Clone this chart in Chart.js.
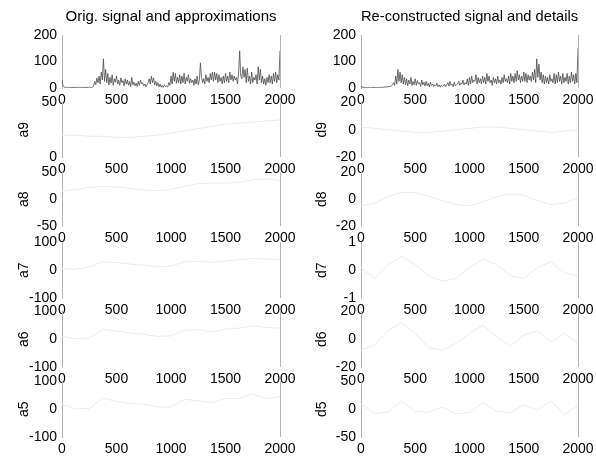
<!DOCTYPE html>
<html><head><meta charset="utf-8">
<script src="https://cdn.jsdelivr.net/npm/chart.js@4"></script>
<style>
html,body{margin:0;padding:0;background:#fff}
body{width:596px;height:464px;position:relative;overflow:hidden}
canvas{position:absolute}
</style>
</head><body>
<script>
// ---- data ----
const SIGNAL_STEP = 10;   // samples between read-off values of the signals
const COARSE_STEP = 125;  // samples between read-off values of the (faint) approximations/details
const xTickValues = [0, 500, 1000, 1500, 2000];

const originalSignal = [
  30, 8, 4, 2, 3, 2, 1, 2, 3, 2,
  2, 3, 2, 1, 2, 3, 2, 2, 1, 2,
  3, 2, 1, 2, 2, 4, 2, 1, 3, 8,
  25, 12, 38, 20, 45, 15, 60, 30, 110, 25,
  70, 20, 55, 12, 40, 18, 50, 10, 35, 22,
  45, 15, 30, 10, 38, 20, 28, 8, 35, 15,
  30, 10, 25, 5, 40, 12, 22, 8, 18, 6,
  25, 10, 30, 15, 20, 8, 15, 5, 12, 20,
  35, 15, 45, 20, 38, 12, 25, 8, 20, 5,
  15, 3, 10, 2, 12, 5, 8, 4, 20, 10,
  45, 15, 60, 25, 55, 18, 40, 20, 50, 15,
  45, 20, 55, 15, 40, 25, 50, 18, 35, 20,
  30, 10, 35, 15, 45, 12, 28, 95, 40, 20,
  35, 15, 50, 25, 40, 20, 55, 30, 60, 25,
  60, 30, 55, 20, 50, 25, 40, 15, 45, 20,
  55, 25, 45, 20, 60, 30, 50, 25, 45, 30,
  40, 15, 55, 140, 45, 35, 80, 40, 70, 20,
  75, 25, 45, 15, 60, 20, 40, 30, 50, 15,
  80, 30, 70, 20, 45, 15, 35, 10, 40, 20,
  50, 20, 45, 15, 55, 25, 60, 20, 50, 30,
  140
];

const reconstructedSignal = [
  5, 4, 3, 2, 2, 1, 1, 2, 1, 1,
  1, 1, 2, 1, 1, 2, 1, 2, 2, 3,
  2, 3, 4, 3, 5, 4, 6, 5, 8, 12,
  20, 10, 45, 15, 70, 25, 60, 20, 50, 15,
  40, 12, 35, 8, 30, 15, 40, 10, 25, 12,
  35, 10, 28, 15, 20, 6, 30, 12, 22, 8,
  25, 8, 18, 4, 22, 10, 15, 5, 12, 8,
  18, 5, 12, 3, 10, 6, 8, 15, 5, 12,
  20, 8, 25, 10, 15, 5, 22, 8, 12, 15,
  25, 10, 18, 15, 30, 12, 20, 15, 35, 10,
  40, 15, 45, 20, 30, 25, 50, 15, 40, 20,
  35, 15, 45, 20, 40, 15, 55, 25, 45, 20,
  30, 10, 40, 20, 35, 15, 45, 20, 30, 15,
  40, 20, 50, 25, 35, 20, 45, 15, 55, 25,
  45, 20, 55, 25, 65, 30, 50, 20, 45, 25,
  60, 25, 55, 20, 50, 30, 45, 25, 60, 30,
  70, 20, 110, 40, 90, 30, 60, 20, 50, 15,
  45, 20, 40, 15, 50, 25, 35, 20, 55, 15,
  50, 20, 60, 25, 45, 15, 55, 20, 40, 25,
  55, 15, 45, 20, 60, 25, 50, 15, 55, 20,
  150
];

const a9 = [20, 20, 19, 19, 18, 18, 19, 20, 22, 24, 26, 28, 30, 31, 32, 33, 34];
const a8 = [15, 18, 22, 24, 23, 20, 17, 16, 18, 24, 29, 30, 30, 32, 36, 38, 35];
const a7 = [5, 3, 12, 30, 28, 22, 18, 12, 15, 30, 32, 28, 33, 38, 42, 40, 38];
const a6 = [10, 2, 4, 35, 30, 22, 18, 10, 12, 32, 34, 26, 36, 40, 48, 42, 40];
const a5 = [18, 1, 3, 40, 28, 20, 18, 8, 8, 36, 30, 24, 38, 38, 55, 38, 45];
const d9 = [2, 1, 0, -1, -2, -2, -1, 0, 1, 2, 2, 1, 0, -1, -2, -1, 0];
const d8 = [-5, -3, 2, 5, 5, 2, -1, -4, -5, -2, 2, 4, 3, -1, -4, -3, 1];
const d7 = [0.1, -0.3, 0.2, 0.5, 0.2, -0.2, -0.4, -0.3, 0.1, 0.4, 0.2, -0.2, -0.3, 0.1, 0.3, -0.1, -0.2];
const d6 = [-8, -4, 6, 12, 4, -6, -8, -3, 4, 10, 2, -5, 3, 6, -2, 4, -3];
const d5 = [10, -8, -5, 15, -4, -6, 4, -8, -6, 12, -4, -6, 8, -2, 15, -10, 6];

const yTicksSignal = [0, 100, 200];
const yTicksA9 = [0, 50];
const yTicks50 = [-50, 0, 50];
const yTicks100 = [-100, 0, 100];
const yTicks20 = [-20, 0, 20];
const yTicks1 = [-1, 0, 1];

const leftTitle = 'Orig. signal and approximations';
const rightTitle = 'Re-constructed signal and details';

// ---- layout (positions/styles only) ----
const FONT = "'Liberation Sans', Arial, Helvetica, sans-serif";
Chart.defaults.font.family = FONT;
Chart.defaults.color = '#000';
const rowTop = [35, 101, 171, 241, 310, 380];
const rowBottom = [88, 157, 226, 298, 367, 437];
const colCanvasLeft = [0, 298];
const colAxisLeft = [62, 361];
const colAxisRight = [280, 578];
const X_AXIS_H = 22, PAD_RIGHT = 20, PAD_TOP = 12;
const EDGE = '#b4b4b4';

const panels = [
  {col:0,row:0,values:originalSignal,step:SIGNAL_STEP,ticks:yTicksSignal,title:leftTitle,label:'',strong:true},
  {col:0,row:1,values:a9,step:COARSE_STEP,ticks:yTicksA9,label:'a9'},
  {col:0,row:2,values:a8,step:COARSE_STEP,ticks:yTicks50,label:'a8'},
  {col:0,row:3,values:a7,step:COARSE_STEP,ticks:yTicks100,label:'a7'},
  {col:0,row:4,values:a6,step:COARSE_STEP,ticks:yTicks100,label:'a6'},
  {col:0,row:5,values:a5,step:COARSE_STEP,ticks:yTicks100,label:'a5'},
  {col:1,row:0,values:reconstructedSignal,step:SIGNAL_STEP,ticks:yTicksSignal,title:rightTitle,label:'',strong:true},
  {col:1,row:1,values:d9,step:COARSE_STEP,ticks:yTicks20,label:'d9'},
  {col:1,row:2,values:d8,step:COARSE_STEP,ticks:yTicks20,label:'d8'},
  {col:1,row:3,values:d7,step:COARSE_STEP,ticks:yTicks1,label:'d7'},
  {col:1,row:4,values:d6,step:COARSE_STEP,ticks:yTicks20,label:'d6'},
  {col:1,row:5,values:d5,step:COARSE_STEP,ticks:yTicks50,label:'d5'},
];

panels.forEach(p => {
  const cLeft = colCanvasLeft[p.col];
  const yW = colAxisLeft[p.col] - cLeft;
  const cW = colAxisRight[p.col] - cLeft + PAD_RIGHT;
  const isTop = p.row === 0;
  const cTop = isTop ? 0 : rowTop[p.row] - PAD_TOP;
  const cH = rowBottom[p.row] - cTop + X_AXIS_H;
  const c = document.createElement('canvas');
  c.width = cW; c.height = cH;
  c.style.left = cLeft + 'px'; c.style.top = cTop + 'px';
  c.style.width = cW + 'px'; c.style.height = cH + 'px';
  document.body.appendChild(c);
  const xMax = xTickValues[xTickValues.length - 1];
  const pts = p.values.map((v, i) => ({x: i * p.step, y: v}));
  new Chart(c, {
    type: 'line',
    data: {datasets: [{
      data: pts,
      borderColor: p.strong ? '#4a4a4a' : '#ececec',
      borderWidth: p.strong ? 0.8 : 1,
      pointRadius: 0,
      tension: 0,
    }]},
    options: {
      responsive: false,
      animation: false,
      devicePixelRatio: 1,
      events: [],
      layout: {padding: {top: isTop ? 0 : PAD_TOP, right: PAD_RIGHT, left: 0, bottom: 0}},
      plugins: {
        legend: {display: false},
        tooltip: {enabled: false},
        title: {
          display: isTop,
          fullSize: false,
          align: 'center',
          text: p.title || '',
          color: '#000',
          font: {size: 15, weight: 'normal', family: FONT},
          padding: {top: 8, bottom: 9},
        },
      },
      scales: {
        x: {
          type: 'linear',
          min: xTickValues[0], max: xMax,
          afterBuildTicks: s => { s.ticks = xTickValues.map(v => ({value: v})); },
          afterFit: s => { s.height = X_AXIS_H; },
          ticks: {font: {size: 14}, color: '#000', padding: 4, maxRotation: 0, autoSkip: false,
                  callback: v => String(v)},
          grid: {
            drawTicks: false,
            drawOnChartArea: true,
            color: ctx => (ctx.tick && ctx.tick.value === xMax) ? EDGE : 'rgba(0,0,0,0)',
            lineWidth: 1,
            dash: [1, 2], borderDash: [1, 2],
          },
          border: {display: false},
        },
        y: {
          type: 'linear',
          min: p.ticks[0], max: p.ticks[p.ticks.length - 1],
          afterBuildTicks: s => { s.ticks = p.ticks.map(v => ({value: v})); },
          afterFit: s => { s.width = yW; },
          ticks: {font: {size: 14}, color: '#000', padding: 5, callback: v => String(v)},
          grid: {display: true, drawOnChartArea: false, drawTicks: false},
          border: {display: true, color: EDGE, width: 1, dash: [1, 2]},
          title: {
            display: !!p.label,
            text: p.label,
            color: '#000',
            font: {size: 14, family: FONT},
            padding: {top: 16, bottom: 0},
          },
        },
      },
    },
  });
});
</script>
</body></html>
